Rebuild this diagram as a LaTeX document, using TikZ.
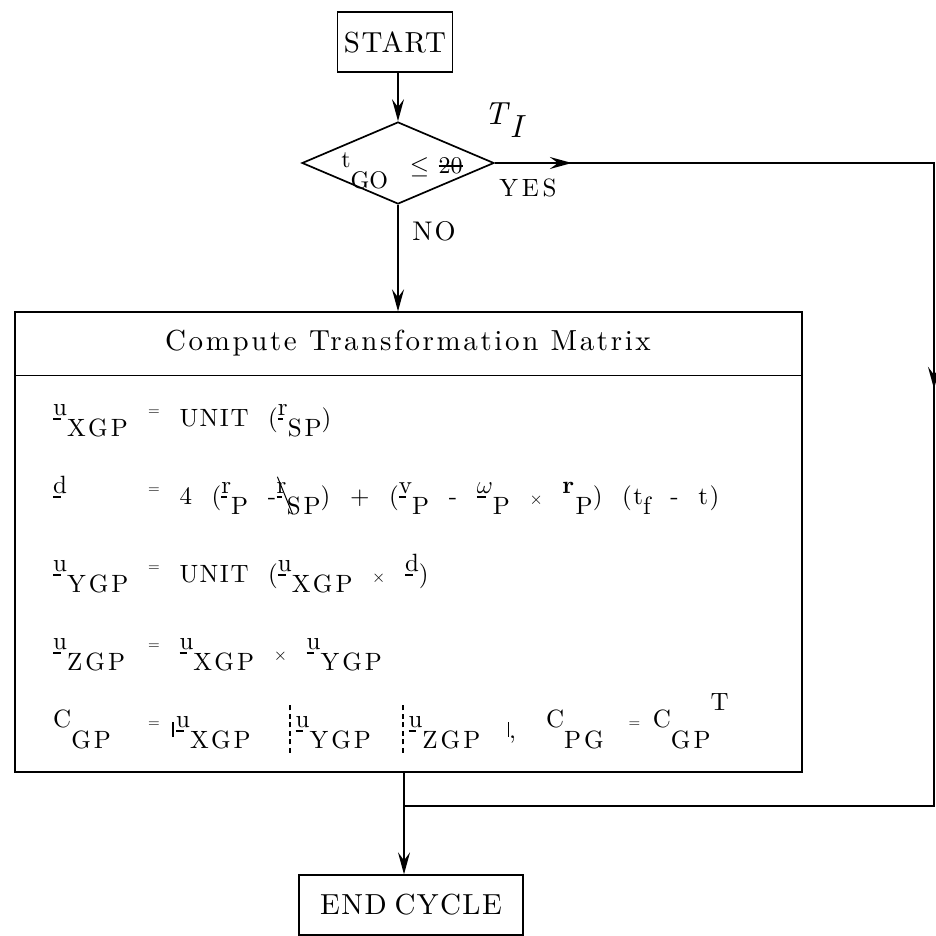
\documentclass[tikz,border=0pt]{standalone}
\usepackage{fontspec}
\setmainfont{lmroman10-regular.otf}[BoldFont=lmroman10-bold.otf,ItalicFont=lmroman10-italic.otf]
\newfontfamily\fttl{lmroman10-regular.otf}[LetterSpace=5,WordSpace=0.7]
\newfontfamily\fhdr{lmroman10-regular.otf}[LetterSpace=9]
\newfontfamily\feq{lmroman10-regular.otf}[LetterSpace=6,WordSpace=2,BoldFont=lmroman10-bold.otf]
\newfontfamily\fsub{lmroman10-regular.otf}[LetterSpace=12]
\newfontfamily\flbl{lmroman10-regular.otf}[LetterSpace=8]
\newfontfamily\fyes{lmroman10-regular.otf}[LetterSpace=15]
\usetikzlibrary{arrows.meta,shapes.geometric,decorations.markings}
\newcommand\up[1]{\raisebox{0.44em}{#1}}
\newcommand\dn[1]{\raisebox{-0.42em}{\fsub #1}}
\newcommand\vb[1]{\raisebox{0.44em}{\setbox0\hbox{#1}\rlap{\raisebox{-0.18em}{\rule{0.55\wd0}{0.06em}}}\copy0}}
\newcommand\smeq{{\fontsize{15}{15}\selectfont =}}
\newcommand\smx{{\fontsize{17}{17}\selectfont ×}}
\newcommand\strk[1]{\setbox0\hbox{#1}\rlap{\raisebox{0.3em}{\rule{\wd0}{0.07em}}}\copy0}
\newcommand\dsep{\raisebox{-0.76em}{\vbox to 2.1em{\cleaders\vbox{\hrule width 0.05em height 0.2em\vskip 0.14em}\vfil}}}
\newcommand\sbar{\raisebox{0.05em}{\rule{0.05em}{0.6em}}}
\begin{document}
\begin{tikzpicture}[x=1pt,y=-1pt,
  box/.style={draw,line width=1.3pt,inner sep=0pt},
  arr/.style={line width=1.7pt,-{Stealth[length=22pt,width=12pt,inset=8pt]}},
  flow/.style={line width=1.7pt},
  ttl/.style={font=\fttl\fontsize{29}{34}\selectfont},
  eq/.style={font=\feq\fontsize{25}{30}\selectfont,inner sep=0pt,anchor=base west},
  lbl/.style={font=\flbl\fontsize{25}{28}\selectfont,inner sep=0pt}]
\useasboundingbox (0,0) rectangle (936,936);
% nodes
\node[box,ttl,minimum width=115pt,minimum height=60pt] (start) at (395,42) {START};
\node[draw,diamond,line width=1.7pt,inner sep=0pt,minimum width=192pt,minimum height=82pt] (dec) at (398,163) {};
\node[inner sep=0pt,anchor=base,font=\fontsize{24}{28}\selectfont] (dectext) at (402,174) {\raisebox{0.25em}{t}\raisebox{-0.6em}{GO}\hspace{0.9em}$\leq$\hspace{0.4em}\strk{20}};
\node[inner sep=0pt,font=\fontsize{32}{32}\selectfont] (ti) at (505,120) {\textit{T}\raisebox{-0.4em}{\textit{I}}};
\node[lbl,font=\fyes\fontsize{25}{28}\selectfont] (yes) at (528,188) {YES};
\node[lbl,font=\flbl\fontsize{27}{30}\selectfont] (no) at (434,231) {NO};
\node[box,minimum width=787pt,minimum height=460pt] (box) at (408.5,542) {};
\draw[line width=1.1pt] ([yshift=-64pt]box.north west) -- ([yshift=-64pt]box.north east);
\node[font=\fhdr\fontsize{29}{34}\selectfont] (hdr) at (408,343) {Compute Transformation Matrix};
% equations
\node[eq] (l1) at (53,426) {\vb{u}\dn{XGP}};
\node[eq] (r1) at (148,426) {\up{\smeq} UNIT (\vb{r}\dn{SP})};
\node[eq] (l2) at (53,504) {\vb{d}};
\node[eq] (r2a) at (148,504) {\up{\smeq} 4 (\vb{r}\dn{P} -~};
\node[eq] (r2r) at (r2a.base east) {\vb{r}};
\node[eq] (r2b) at (r2r.base east) {\dn{SP}) + (\vb{v}\dn{P} - \vb{$\omega$}\dn{P} \smx\ \up{\textbf{r}}\dn{P}) (t\dn{f} - t)};
\draw[line width=1pt] ([xshift=1pt,yshift=5pt]r2r.north west) -- ([xshift=6pt,yshift=-10pt]r2r.south east);
\node[eq] (l3) at (53,582) {\vb{u}\dn{YGP}};
\node[eq] (r3) at (148,582) {\up{\smeq} UNIT (\vb{u}\dn{XGP} \smx\ \vb{d})};
\node[eq] (l4) at (53,660) {\vb{u}\dn{ZGP}};
\node[eq] (r4) at (148,660) {\up{\smeq} \vb{u}\dn{XGP} \smx\ \vb{u}\dn{YGP}};
\node[eq] (l5) at (53,738) {\up{C}\dn{GP}};
\node[eq] (r5) at (148,738) {\up{\smeq}\hspace{0.5em}\sbar\hspace{0.1em}\vb{u}\dn{XGP}\hspace{1.55em}\dsep\hspace{0.2em}\vb{u}\dn{YGP}\hspace{1.25em}\dsep\hspace{0.2em}\vb{u}\dn{ZGP}\hspace{1.1em}\sbar,\hspace{1.2em}\up{C}\dn{PG}\hspace{1em}\up{\smeq}\hspace{0.5em}\up{C}\dn{GP}\raisebox{1.1em}{T}};
\node[box,ttl,minimum width=224pt,minimum height=60pt] (endc) at (411,905) {END CYCLE};
% connectors
\coordinate (cTR) at (934,163);
\coordinate (cBR) at (934,806);
\coordinate (exit) at ([xshift=-4.5pt]box.south);
\coordinate (join) at (exit |- cBR);
\draw[arr] (start.south -| dec.north) -- (dec.north);
\draw[arr] (dec.south) -- (dec.south |- box.north);
\draw[flow,postaction={decorate},decoration={markings,
   mark=at position 77pt with {\arrow{Stealth[length=22pt,width=12pt,inset=8pt]}},
   mark=at position 665pt with {\arrow{Stealth[length=22pt,width=12pt,inset=8pt]}}}]
   (dec.east) -- (cTR) -- (cBR) -- (join);
\draw[arr] (exit) -- (exit |- endc.north);
\end{tikzpicture}
\end{document}
